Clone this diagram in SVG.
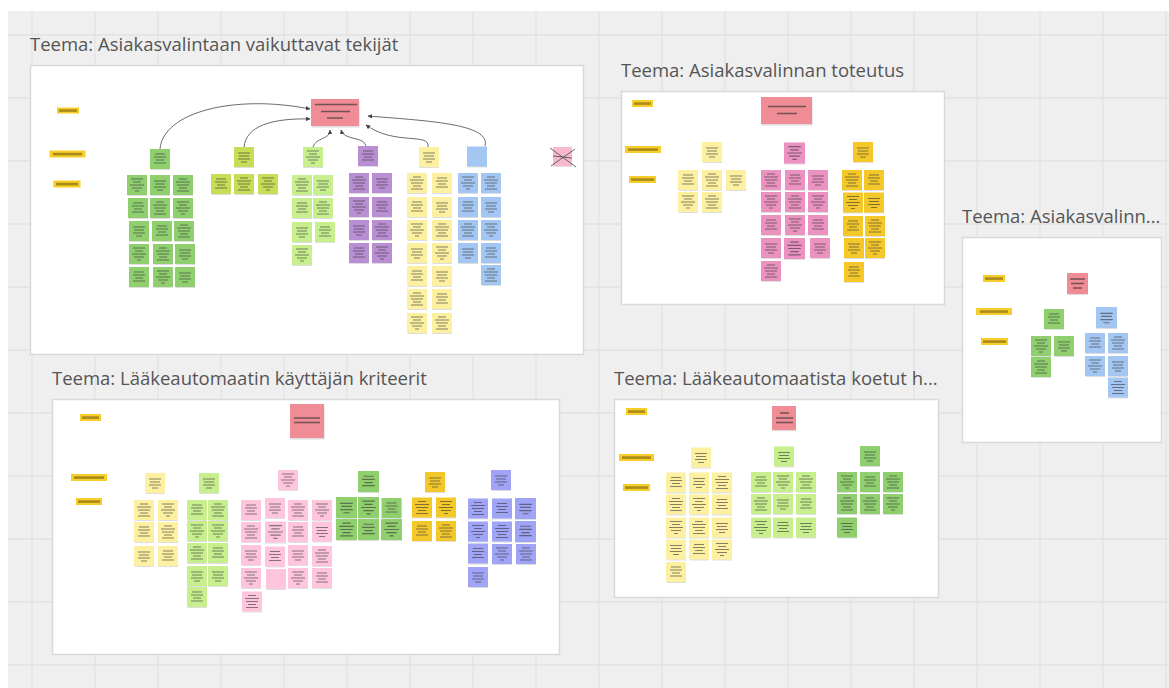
<svg xmlns="http://www.w3.org/2000/svg" xmlns:xlink="http://www.w3.org/1999/xlink" width="1169" height="688" viewBox="0 0 1169 688">
<style>
  .ttl{font-family:"Open Sans","Liberation Sans",sans-serif;font-size:18.5px;fill:#555}
  .frame{fill:#fff;stroke:#d9d9d9;stroke-width:1.5}
  .grid{stroke:#e2e2e2;stroke-width:1.3}
  .sd{fill:#000;opacity:.13}
  .tx{fill:none;stroke:#3a3a3a;stroke-opacity:.62;stroke-width:1.15}
  .bar{fill:none;stroke:#3a3a3a;stroke-opacity:.7;stroke-width:1.4}
  .tag{fill:#f7cd2b}
  .tagtx{fill:#5a4a08;opacity:.5}
  .con{fill:none;stroke:#5a5a5a;stroke-width:.9}
  .dg{fill:#8fcf6e}.ol{fill:#c9dc55}.lg{fill:#c8ef8e}.pu{fill:#b98ed3}
  .ly{fill:#fdf1a1}.bl{fill:#a3c7f2}.rd{fill:#f08c96}.mg{fill:#eb92c1}
  .go{fill:#f5c829}.lp{fill:#ffc5dc}.pw{fill:#a0a4f6}.pk{fill:#f8b9d0}
</style>
<defs>
  <!-- sticky note variants: shadow, paper, and lines of small print -->
  <symbol id="a" viewBox="0 0 20 20" overflow="visible">
    <rect class="sd" x=".6" y="1.6" width="19.4" height="19.4"/><rect width="20" height="20"/>
    <path class="tx" d="M5 5h10M4 8h12M6 11h8M4 14h12"/>
  </symbol>
  <symbol id="b" viewBox="0 0 20 20" overflow="visible">
    <rect class="sd" x=".6" y="1.6" width="19.4" height="19.4"/><rect width="20" height="20"/>
    <path class="tx" d="M4 4h12M6 7h8M3 10h14M5 13h10M8 16h4"/>
  </symbol>
  <symbol id="c" viewBox="0 0 20 20" overflow="visible">
    <rect class="sd" x=".6" y="1.6" width="19.4" height="19.4"/><rect width="20" height="20"/>
    <path class="tx" d="M4 6h12M5 9h10M4 12h12M7 15h6"/>
  </symbol>
  <symbol id="d" viewBox="0 0 20 20" overflow="visible">
    <rect class="sd" x=".6" y="1.6" width="19.4" height="19.4"/><rect width="20" height="20"/>
    <path class="tx" d="M6 4h8M3 7h14M4 10h12M6 13h8M4 16h12"/>
  </symbol>
  <symbol id="e" viewBox="0 0 20 20" overflow="visible">
    <rect class="sd" x=".6" y="1.6" width="19.4" height="19.4"/><rect width="20" height="20"/>
  </symbol>
  <marker id="arr" viewBox="0 0 6 6" refX="5.5" refY="3" markerWidth="4.5" markerHeight="4.5" orient="auto" markerUnits="userSpaceOnUse">
    <path d="M0 0L6 3L0 6z" fill="#444"/>
  </marker>
</defs>

<!-- board canvas -->
<rect width="1169" height="688" fill="#fff"/>
<rect x="8" y="11" width="1161" height="677" fill="#efefef"/>
<g class="grid">
  <path d="M32 11V688M95 11V688M158 11V688M221 11V688M284 11V688M347 11V688M410 11V688M473 11V688M536 11V688M599 11V688M662 11V688M725 11V688M788 11V688M851 11V688M914 11V688M977 11V688M1040 11V688M1103 11V688M1166 11V688"/>
  <path d="M8 35H1169M8 98H1169M8 161H1169M8 224H1169M8 287H1169M8 350H1169M8 413H1169M8 476H1169M8 539H1169M8 602H1169M8 665H1169"/>
</g>

<!-- frame titles and frames -->
<text class="ttl" x="30" y="51">Teema: Asiakasvalintaan vaikuttavat tekijät</text>
<text class="ttl" x="621" y="77">Teema: Asiakasvalinnan toteutus</text>
<text class="ttl" x="962" y="223">Teema: Asiakasvalinn...</text>
<text class="ttl" x="52" y="385">Teema: Lääkeautomaatin käyttäjän kriteerit</text>
<text class="ttl" x="614" y="385">Teema: Lääkeautomaatista koetut h...</text>
<rect class="frame" x="30.5" y="65.5" width="553" height="289"/>
<rect class="frame" x="621.5" y="91.5" width="323" height="213"/>
<rect class="frame" x="962.5" y="237.5" width="199" height="205"/>
<rect class="frame" x="52.5" y="399.5" width="507" height="255"/>
<rect class="frame" x="614.5" y="399.5" width="324" height="198"/>

<!-- ===== Frame 1 ===== -->
<g id="f1-tags">
  <rect class="tag" x="57" y="107.5" width="22" height="6"/><rect class="tagtx" x="59" y="109.3" width="18" height="2.6"/>
  <rect class="tag" x="49.5" y="150.5" width="36" height="7"/><rect class="tagtx" x="53" y="152.8" width="29" height="2.6"/>
  <rect class="tag" x="53.5" y="180.5" width="27" height="7"/><rect class="tagtx" x="56" y="182.8" width="22" height="2.6"/>
</g>
<g id="f1-main">
  <rect class="sd" x="311.6" y="100.6" width="48" height="27"/>
  <rect class="rd" x="311" y="99" width="48" height="27"/>
  <path class="bar" d="M315 104.5h42M321 111.5h29M327 118h16"/>
</g>
<g id="f1-green">
  <use id="f1-green-h" href="#a" x="150" y="149" width="20" height="20" class="dg"/>
  <use href="#b" x="127" y="175" width="20" height="20" class="dg"/>
  <use href="#c" x="150" y="175" width="20" height="20" class="dg"/>
  <use href="#d" x="173" y="175" width="20" height="20" class="dg"/>
  <use href="#a" x="128" y="198" width="20" height="20" class="dg"/>
  <use href="#d" x="150" y="198" width="20" height="20" class="dg"/>
  <use href="#b" x="173" y="198" width="20" height="20" class="dg"/>
  <use href="#c" x="129" y="221" width="20" height="20" class="dg"/>
  <use href="#a" x="152" y="221" width="20" height="20" class="dg"/>
  <use href="#d" x="174" y="221" width="20" height="20" class="dg"/>
  <use href="#b" x="129" y="244" width="20" height="20" class="dg"/>
  <use href="#d" x="153" y="244" width="20" height="20" class="dg"/>
  <use href="#c" x="175" y="244" width="20" height="20" class="dg"/>
  <use href="#a" x="129" y="267" width="20" height="20" class="dg"/>
  <use href="#b" x="153" y="267" width="20" height="20" class="dg"/>
  <use href="#c" x="175" y="267" width="20" height="20" class="dg"/>
</g>
<g id="f1-olive">
  <use id="f1-olive-h" href="#c" x="234" y="147" width="20" height="20" class="ol"/>
  <use href="#a" x="211" y="174" width="20" height="20" class="ol"/>
  <use href="#d" x="234" y="174" width="20" height="20" class="ol"/>
  <use href="#b" x="258" y="174" width="20" height="20" class="ol"/>
</g>
<g id="f1-lime">
  <use id="f1-lime-h" href="#b" x="303" y="147" width="20" height="20" class="lg"/>
  <use href="#d" x="292" y="175" width="20" height="20" class="lg"/>
  <use href="#a" x="292" y="198" width="20" height="20" class="lg"/>
  <use href="#c" x="292" y="222" width="20" height="20" class="lg"/>
  <use href="#b" x="292" y="245" width="20" height="20" class="lg"/>
  <use href="#c" x="313" y="175" width="20" height="20" class="lg"/>
  <use href="#d" x="313" y="198" width="20" height="20" class="lg"/>
  <use href="#a" x="315" y="222" width="20" height="20" class="lg"/>
</g>
<g id="f1-purple">
  <use id="f1-purple-h" href="#a" x="358" y="146" width="20" height="20" class="pu"/>
  <use href="#d" x="349" y="173" width="20" height="20" class="pu"/>
  <use href="#b" x="349" y="197" width="20" height="20" class="pu"/>
  <use href="#c" x="349" y="220" width="20" height="20" class="pu"/>
  <use href="#a" x="349" y="243" width="20" height="20" class="pu"/>
  <use href="#c" x="372" y="173" width="20" height="20" class="pu"/>
  <use href="#a" x="372" y="197" width="20" height="20" class="pu"/>
  <use href="#d" x="372" y="220" width="20" height="20" class="pu"/>
  <use href="#b" x="372" y="243" width="20" height="20" class="pu"/>
</g>
<g id="f1-yellow">
  <use id="f1-yellow-h" href="#c" x="419" y="147" width="20" height="20" class="ly"/>
  <use href="#d" x="407" y="173" width="20" height="20" class="ly"/>
  <use href="#a" x="407" y="197" width="20" height="20" class="ly"/>
  <use href="#b" x="407" y="220" width="20" height="20" class="ly"/>
  <use href="#c" x="407" y="243" width="20" height="20" class="ly"/>
  <use href="#a" x="407" y="266" width="20" height="20" class="ly"/>
  <use href="#d" x="407" y="289" width="20" height="20" class="ly"/>
  <use href="#b" x="407" y="313" width="20" height="20" class="ly"/>
  <use href="#a" x="432" y="173" width="20" height="20" class="ly"/>
  <use href="#c" x="432" y="197" width="20" height="20" class="ly"/>
  <use href="#d" x="432" y="220" width="20" height="20" class="ly"/>
  <use href="#b" x="432" y="243" width="20" height="20" class="ly"/>
  <use href="#c" x="432" y="266" width="20" height="20" class="ly"/>
  <use href="#a" x="432" y="289" width="20" height="20" class="ly"/>
  <use href="#d" x="432" y="313" width="20" height="20" class="ly"/>
</g>
<g id="f1-blue">
  <use id="f1-blue-h" href="#e" x="467" y="146" width="20" height="21" class="bl"/>
  <use href="#b" x="458" y="173" width="20" height="20" class="bl"/>
  <use href="#a" x="458" y="197" width="20" height="20" class="bl"/>
  <use href="#d" x="458" y="220" width="20" height="20" class="bl"/>
  <use href="#c" x="458" y="243" width="20" height="20" class="bl"/>
  <use href="#d" x="481" y="173" width="20" height="20" class="bl"/>
  <use href="#c" x="481" y="197" width="20" height="20" class="bl"/>
  <use href="#b" x="481" y="220" width="20" height="20" class="bl"/>
  <use href="#a" x="481" y="243" width="20" height="20" class="bl"/>
  <use href="#d" x="481" y="265" width="20" height="20" class="bl"/>
</g>
<g id="f1-crossed">
  <use href="#e" x="552" y="147" width="21" height="19" class="pk"/>
  <path d="M550 148L576 167M551 166L575 149M553 156L572 158" stroke="#555" stroke-width=".9" fill="none"/>
</g>
<g id="f1-connectors">
  <path class="con" marker-end="url(#arr)" d="M160 149C163 112 235 94 310 109"/>
  <path class="con" marker-end="url(#arr)" d="M244 147C246 126 272 118 310 119"/>
  <path class="con" marker-end="url(#arr)" d="M313 147C316 137 330 140 330 130"/>
  <path class="con" marker-end="url(#arr)" d="M366 146C364 136 344 141 341 130"/>
  <path class="con" marker-end="url(#arr)" d="M428 147C430 132 395 146 366 125"/>
  <path class="con" marker-end="url(#arr)" d="M485 146C491 124 430 121 368 116"/>
</g>

<!-- ===== Frame 2 ===== -->
<g id="f2-tags">
  <rect class="tag" x="632" y="100" width="21" height="7"/><rect class="tagtx" x="634" y="102.3" width="17" height="2.6"/>
  <rect class="tag" x="625" y="146" width="36" height="7"/><rect class="tagtx" x="628" y="148.3" width="30" height="2.6"/>
  <rect class="tag" x="629" y="176" width="27" height="7"/><rect class="tagtx" x="631" y="178.3" width="23" height="2.6"/>
</g>
<g id="f2-main">
  <rect class="sd" x="761.6" y="98.6" width="51" height="27"/>
  <rect class="rd" x="761" y="97" width="51" height="27"/>
  <path class="bar" d="M768 106.5h38M777 113.5h20"/>
</g>
<g id="f2-yellow">
  <use id="f2-yellow-h" href="#c" x="702" y="142" width="20" height="20" class="ly"/>
  <use href="#a" x="678" y="170" width="20" height="20" class="ly"/>
  <use href="#d" x="702" y="170" width="20" height="20" class="ly"/>
  <use href="#c" x="726" y="170" width="20" height="20" class="ly"/>
  <use href="#b" x="678" y="192" width="20" height="20" class="ly"/>
  <use href="#d" x="702" y="192" width="20" height="20" class="ly"/>
</g>
<g id="f2-magenta">
  <use id="f2-magenta-h" href="#b" x="784" y="142" width="21" height="22" class="mg"/>
  <use href="#d" x="761" y="170" width="20" height="20" class="mg"/>
  <use href="#b" x="761" y="192" width="20" height="20" class="mg"/>
  <use href="#a" x="761" y="215" width="20" height="20" class="mg"/>
  <use href="#c" x="761" y="238" width="20" height="20" class="mg"/>
  <use href="#d" x="761" y="261" width="20" height="20" class="mg"/>
  <use href="#a" x="785" y="170" width="20" height="20" class="mg"/>
  <use href="#d" x="785" y="192" width="20" height="20" class="mg"/>
  <use href="#b" x="785" y="215" width="20" height="20" class="mg"/>
  <use href="#d" x="784" y="238" width="21" height="21" class="mg"/>
  <use href="#c" x="808" y="170" width="20" height="20" class="mg"/>
  <use href="#b" x="808" y="192" width="20" height="20" class="mg"/>
  <use href="#a" x="808" y="215" width="20" height="20" class="mg"/>
  <use href="#c" x="810" y="238" width="20" height="20" class="mg"/>
</g>
<g id="f2-gold">
  <use id="f2-gold-h" href="#c" x="853" y="142" width="20" height="20" class="go"/>
  <use href="#d" x="842" y="170" width="20" height="20" class="go"/>
  <use href="#b" x="843" y="192" width="20" height="21" class="go"/>
  <use href="#a" x="843" y="216" width="20" height="20" class="go"/>
  <use href="#c" x="844" y="238" width="20" height="20" class="go"/>
  <use href="#a" x="844" y="262" width="20" height="20" class="go"/>
  <use href="#a" x="864" y="170" width="20" height="20" class="go"/>
  <use href="#c" x="864" y="192" width="20" height="21" class="go"/>
  <use href="#d" x="865" y="216" width="20" height="20" class="go"/>
  <use href="#b" x="865" y="238" width="20" height="20" class="go"/>
</g>

<!-- ===== Frame 3 ===== -->
<g id="f3-tags">
  <rect class="tag" x="983" y="275" width="22" height="7"/><rect class="tagtx" x="985" y="277.3" width="18" height="2.6"/>
  <rect class="tag" x="976" y="308" width="36" height="7"/><rect class="tagtx" x="980" y="310.3" width="28" height="2.6"/>
  <rect class="tag" x="981" y="338" width="27" height="7"/><rect class="tagtx" x="983" y="340.3" width="23" height="2.6"/>
</g>
<g id="f3-main">
  <use href="#e" x="1067" y="272" width="21" height="23" class="rd"/>
  <path class="bar" d="M1070 279h15M1071 283.5h13M1073 288h9"/>
</g>
<g id="f3-green">
  <use id="f3-green-h" href="#a" x="1044" y="309" width="20" height="20" class="dg"/>
  <use href="#b" x="1031" y="336" width="20" height="20" class="dg"/>
  <use href="#c" x="1054" y="336" width="20" height="20" class="dg"/>
  <use href="#d" x="1031" y="357" width="20" height="20" class="dg"/>
</g>
<g id="f3-blue">
  <use id="f3-blue-h" href="#c" x="1096" y="307" width="21" height="21" class="bl"/>
  <use href="#a" x="1085" y="333" width="20" height="20" class="bl"/>
  <use href="#d" x="1108" y="333" width="20" height="20" class="bl"/>
  <use href="#b" x="1085" y="356" width="20" height="20" class="bl"/>
  <use href="#c" x="1108" y="356" width="20" height="20" class="bl"/>
  <use href="#d" x="1108" y="377" width="20" height="21" class="bl"/>
</g>

<!-- ===== Frame 4 ===== -->
<g id="f4-tags">
  <rect class="tag" x="80" y="414" width="21" height="7"/><rect class="tagtx" x="82" y="416.3" width="17" height="2.6"/>
  <rect class="tag" x="71" y="474" width="36" height="7"/><rect class="tagtx" x="74" y="476.3" width="30" height="2.6"/>
  <rect class="tag" x="76" y="498" width="26" height="7"/><rect class="tagtx" x="78" y="500.3" width="22" height="2.6"/>
</g>
<g id="f4-main">
  <rect class="sd" x="290.6" y="405.6" width="34" height="34"/>
  <rect class="rd" x="290" y="404" width="34" height="34"/>
  <path class="bar" d="M294 418h26M294 422.5h26"/>
</g>
<g id="f4-yellow">
  <use id="f4-yellow-h" href="#c" x="145" y="473" width="20" height="20" class="ly"/>
  <use href="#d" x="134" y="500" width="20" height="20" class="ly"/>
  <use href="#a" x="134" y="522" width="20" height="20" class="ly"/>
  <use href="#c" x="134" y="546" width="20" height="20" class="ly"/>
  <use href="#b" x="158" y="500" width="20" height="20" class="ly"/>
  <use href="#d" x="158" y="522" width="20" height="20" class="ly"/>
  <use href="#a" x="158" y="546" width="20" height="20" class="ly"/>
</g>
<g id="f4-lime">
  <use id="f4-lime-h" href="#c" x="199" y="473" width="20" height="20" class="lg"/>
  <use href="#a" x="187" y="500" width="20" height="20" class="lg"/>
  <use href="#b" x="187" y="521" width="20" height="20" class="lg"/>
  <use href="#d" x="187" y="543" width="20" height="20" class="lg"/>
  <use href="#c" x="187" y="566" width="20" height="20" class="lg"/>
  <use href="#a" x="187" y="587" width="20" height="20" class="lg"/>
  <use href="#d" x="208" y="500" width="20" height="20" class="lg"/>
  <use href="#b" x="208" y="521" width="20" height="20" class="lg"/>
  <use href="#a" x="208" y="543" width="20" height="20" class="lg"/>
  <use href="#c" x="208" y="566" width="20" height="20" class="lg"/>
</g>
<g id="f4-pink">
  <use id="f4-pink-h" href="#b" x="278" y="469" width="20" height="22" class="lp"/>
  <use href="#a" x="241" y="500" width="20" height="20" class="lp"/>
  <use href="#d" x="241" y="522" width="20" height="20" class="lp"/>
  <use href="#c" x="241" y="545" width="20" height="20" class="lp"/>
  <use href="#b" x="241" y="568" width="20" height="20" class="lp"/>
  <use href="#d" x="242" y="591" width="20" height="21" class="lp"/>
  <use href="#c" x="265" y="498" width="20" height="20" class="lp"/>
  <use href="#b" x="265" y="521" width="21" height="22" class="lp"/>
  <use href="#a" x="265" y="546" width="20" height="21" class="lp"/>
  <use href="#e" x="266" y="569" width="20" height="20" class="lp"/>
  <use href="#d" x="288" y="500" width="20" height="20" class="lp"/>
  <use href="#a" x="288" y="522" width="20" height="20" class="lp"/>
  <use href="#c" x="288" y="545" width="20" height="20" class="lp"/>
  <use href="#b" x="288" y="568" width="20" height="20" class="lp"/>
  <use href="#b" x="312" y="500" width="20" height="20" class="lp"/>
  <use href="#c" x="312" y="521" width="20" height="21" class="lp"/>
  <use href="#d" x="312" y="546" width="20" height="20" class="lp"/>
  <use href="#a" x="312" y="568" width="20" height="20" class="lp"/>
</g>
<g id="f4-green">
  <use id="f4-green-h" href="#a" x="358" y="471" width="21" height="21" class="dg"/>
  <use href="#c" x="336" y="497" width="21" height="21" class="dg"/>
  <use href="#b" x="358" y="497" width="21" height="21" class="dg"/>
  <use href="#a" x="381" y="498" width="21" height="20" class="dg"/>
  <use href="#d" x="336" y="519" width="21" height="21" class="dg"/>
  <use href="#a" x="358" y="519" width="21" height="21" class="dg"/>
  <use href="#b" x="381" y="519" width="21" height="21" class="dg"/>
</g>
<g id="f4-gold">
  <use id="f4-gold-h" href="#c" x="425" y="472" width="20" height="20" class="go"/>
  <use href="#d" x="412" y="497" width="20" height="21" class="go"/>
  <use href="#b" x="436" y="497" width="20" height="21" class="go"/>
  <use href="#a" x="412" y="521" width="20" height="20" class="go"/>
  <use href="#d" x="436" y="521" width="20" height="20" class="go"/>
</g>
<g id="f4-periwinkle">
  <use id="f4-periwinkle-h" href="#c" x="491" y="469" width="20" height="22" class="pw"/>
  <use href="#d" x="468" y="498" width="20" height="21" class="pw"/>
  <use href="#b" x="468" y="521" width="20" height="21" class="pw"/>
  <use href="#a" x="468" y="543" width="20" height="21" class="pw"/>
  <use href="#c" x="468" y="567" width="20" height="20" class="pw"/>
  <use href="#a" x="492" y="498" width="20" height="21" class="pw"/>
  <use href="#d" x="492" y="521" width="20" height="21" class="pw"/>
  <use href="#b" x="492" y="544" width="20" height="20" class="pw"/>
  <use href="#c" x="515" y="498" width="21" height="21" class="pw"/>
  <use href="#a" x="515" y="521" width="21" height="21" class="pw"/>
  <use href="#d" x="516" y="544" width="20" height="20" class="pw"/>
</g>

<!-- ===== Frame 5 ===== -->
<g id="f5-tags">
  <rect class="tag" x="626" y="408" width="21" height="7"/><rect class="tagtx" x="628" y="410.3" width="17" height="2.6"/>
  <rect class="tag" x="619" y="454" width="35" height="7"/><rect class="tagtx" x="622" y="456.3" width="29" height="2.6"/>
  <rect class="tag" x="623" y="484" width="27" height="7"/><rect class="tagtx" x="625" y="486.3" width="23" height="2.6"/>
</g>
<g id="f5-main">
  <use href="#e" x="772" y="406" width="24" height="24" class="rd"/>
  <path class="bar" d="M780 413h9M776 418h17M776 422.5h17"/>
</g>
<g id="f5-yellow">
  <use id="f5-yellow-h" href="#c" x="691" y="447" width="20" height="21" class="ly"/>
  <use href="#a" x="666" y="472" width="20" height="21" class="ly"/>
  <use href="#d" x="666" y="494" width="20" height="21" class="ly"/>
  <use href="#b" x="666" y="517" width="20" height="21" class="ly"/>
  <use href="#c" x="666" y="539" width="20" height="21" class="ly"/>
  <use href="#a" x="666" y="562" width="20" height="20" class="ly"/>
  <use href="#c" x="689" y="472" width="20" height="21" class="ly"/>
  <use href="#b" x="689" y="494" width="20" height="21" class="ly"/>
  <use href="#d" x="689" y="517" width="20" height="21" class="ly"/>
  <use href="#a" x="689" y="539" width="20" height="21" class="ly"/>
  <use href="#d" x="712" y="472" width="20" height="21" class="ly"/>
  <use href="#a" x="712" y="494" width="20" height="21" class="ly"/>
  <use href="#c" x="712" y="517" width="20" height="21" class="ly"/>
  <use href="#b" x="712" y="539" width="20" height="21" class="ly"/>
</g>
<g id="f5-lime">
  <use id="f5-lime-h" href="#c" x="774" y="446" width="20" height="21" class="lg"/>
  <use href="#a" x="751" y="472" width="20" height="20" class="lg"/>
  <use href="#d" x="751" y="494" width="20" height="20" class="lg"/>
  <use href="#b" x="751" y="517" width="20" height="21" class="lg"/>
  <use href="#b" x="773" y="472" width="20" height="20" class="lg"/>
  <use href="#c" x="773" y="494" width="20" height="20" class="lg"/>
  <use href="#a" x="773" y="517" width="20" height="21" class="lg"/>
  <use href="#d" x="796" y="472" width="20" height="20" class="lg"/>
  <use href="#a" x="796" y="494" width="20" height="20" class="lg"/>
  <use href="#c" x="796" y="517" width="20" height="21" class="lg"/>
</g>
<g id="f5-green">
  <use id="f5-green-h" href="#c" x="860" y="446" width="20" height="20" class="dg"/>
  <use href="#b" x="837" y="472" width="20" height="20" class="dg"/>
  <use href="#d" x="837" y="494" width="20" height="20" class="dg"/>
  <use href="#c" x="837" y="517" width="20" height="21" class="dg"/>
  <use href="#a" x="860" y="472" width="20" height="20" class="dg"/>
  <use href="#d" x="860" y="494" width="20" height="20" class="dg"/>
  <use href="#d" x="883" y="472" width="20" height="20" class="dg"/>
  <use href="#b" x="883" y="494" width="20" height="20" class="dg"/>
</g>
</svg>
